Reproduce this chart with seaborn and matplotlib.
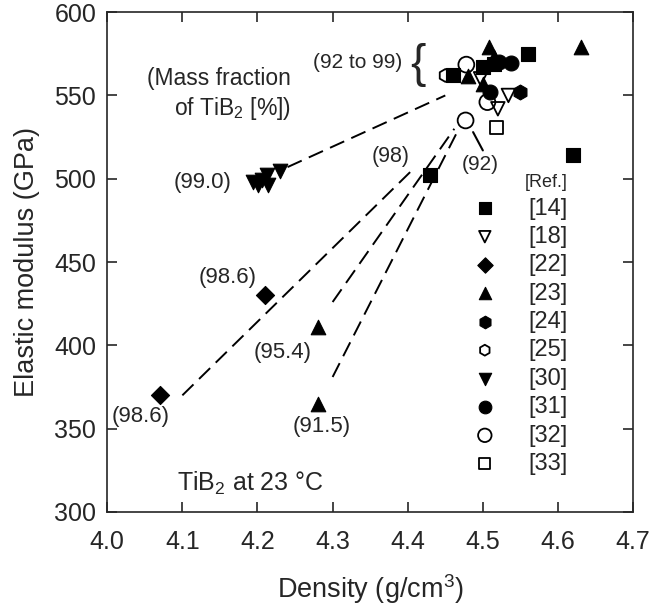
import pandas as pd
import seaborn as sns
import matplotlib.pyplot as plt

# data (density g/cm3, elastic modulus GPa)
refs = ['[14]', '[18]', '[22]', '[23]', '[24]', '[25]', '[30]', '[31]', '[32]', '[33]']
dens_14 = [4.46, 4.50, 4.515, 4.56, 4.62, 4.43]
mod_14 = [562.5, 567, 569, 575, 514, 502]
dens_18 = [4.497, 4.534, 4.52]
mod_18 = [560, 550, 542]
dens_22 = [4.07, 4.21]
mod_22 = [370, 430]
dens_23 = [4.48, 4.50, 4.508, 4.515, 4.63, 4.28, 4.28]
mod_23 = [561.5, 557, 579, 573, 579, 411, 365]
dens_24 = [4.55]
mod_24 = [552]
dens_25 = [4.45]
mod_25 = [562]
dens_30 = [4.194, 4.201, 4.214, 4.206, 4.212, 4.23]
mod_30 = [498, 496, 496, 499, 502, 504.5]
dens_31 = [4.537, 4.51, 4.522]
mod_31 = [569.5, 552, 570]
dens_32 = [4.478, 4.477, 4.506]
mod_32 = [568.5, 535, 546]
dens_33 = [4.518]
mod_33 = [531]

all_dens = [dens_14, dens_18, dens_22, dens_23, dens_24, dens_25, dens_30, dens_31, dens_32, dens_33]
all_mod = [mod_14, mod_18, mod_22, mod_23, mod_24, mod_25, mod_30, mod_31, mod_32, mod_33]

# marker, filled, size
styles = {
    '[14]': ('s', True, 100),
    '[18]': ('v', False, 95),
    '[22]': ('D', True, 85),
    '[23]': ('^', True, 110),
    '[24]': ('h', True, 115),
    '[25]': ('h', False, 85),
    '[30]': ('v', True, 110),
    '[31]': ('o', True, 115),
    '[32]': ('o', False, 130),
    '[33]': ('s', False, 90),
}

# dashed guide lines (start, end)
guides = [
    ((4.24, 507), (4.45, 550)),
    ((4.10, 370), (4.41, 507)),
    ((4.30, 426), (4.462, 530)),
    ((4.30, 381), (4.468, 530)),
]

sns.set_style('ticks')
plt.rcParams['font.family'] = ['Liberation Sans', 'DejaVu Sans']
plt.rcParams['mathtext.fontset'] = 'custom'
plt.rcParams['mathtext.rm'] = 'Liberation Sans'
plt.rcParams['mathtext.it'] = 'Liberation Sans:italic'

fig = plt.figure(figsize=(6.5, 6.08), dpi=100)
ax = fig.add_axes([0.165, 0.158, 0.809, 0.822])

for (p0, p1) in guides:
    ax.plot([p0[0], p1[0]], [p0[1], p1[1]], color='black', lw=1.4,
            dashes=(8, 4), zorder=1)
ax.plot([4.487, 4.50], [528, 517], color='black', lw=1.5, zorder=1)

for ref, xs, ys in zip(refs, all_dens, all_mod):
    m, filled, s = styles[ref]
    df = pd.DataFrame({'density': xs, 'modulus': ys})
    if filled:
        sns.scatterplot(data=df, x='density', y='modulus', marker=m, s=s,
                        color='black', edgecolor='black', linewidth=0.8,
                        label=ref, ax=ax, zorder=3)
    else:
        sns.scatterplot(data=df, x='density', y='modulus', marker=m, s=s,
                        facecolor='none', edgecolor='black', linewidth=1.3,
                        label=ref, ax=ax, zorder=3)

ax.set_xlim(4.0, 4.7)
ax.set_ylim(300, 600)
ax.set_xticks([4.0, 4.1, 4.2, 4.3, 4.4, 4.5, 4.6, 4.7])
ax.set_yticks([300, 350, 400, 450, 500, 550, 600])
ax.tick_params(direction='in', length=7, width=1.2, labelsize=18,
               top=True, right=True)
ax.tick_params(axis='x', pad=13)
ax.tick_params(axis='y', pad=8)
for sp in ax.spines.values():
    sp.set_linewidth(1.2)
    sp.set_visible(True)
ax.set_xlabel('Density (g/cm$^3$)', fontsize=19.5, labelpad=13)
ax.set_ylabel('Elastic modulus (GPa)', fontsize=19.5, labelpad=10)

fs = 16
ax.text(4.127, 498, '(99.0)', fontsize=fs, ha='center', va='center')
ax.text(4.16, 441, '(98.6)', fontsize=fs, ha='center', va='center')
ax.text(4.045, 357, '(98.6)', fontsize=fs, ha='center', va='center')
ax.text(4.234, 396, '(95.4)', fontsize=fs, ha='center', va='center')
ax.text(4.286, 351, '(91.5)', fontsize=fs, ha='center', va='center')
ax.text(4.377, 513.5, '(98)', fontsize=15.5, ha='center', va='center')
ax.text(4.497, 508.5, '(92)', fontsize=15, ha='center', va='center')
ax.text(4.393, 569.5, '(92 to 99)', fontsize=15, ha='right', va='center')
ax.text(4.414, 568, '{', fontsize=33, ha='center', va='center')
ax.text(4.245, 560, '(Mass fraction', fontsize=16.5, ha='right', va='center')
ax.text(4.245, 542, 'of TiB$_2$ [%])', fontsize=16.5, ha='right', va='center')
ax.text(4.093, 317, 'TiB$_2$ at 23 °C', fontsize=18, ha='left', va='center')

leg = ax.legend(title='[Ref.]', frameon=False, fontsize=17, title_fontsize=13,
                loc='upper right', bbox_to_anchor=(0.892, 0.733),
                bbox_transform=fig.transFigure, borderpad=0, labelspacing=0.27,
                handlelength=1.0, handletextpad=1.36, alignment='right',
                markerscale=0.85)

fig.savefig('out.png', dpi=100)
